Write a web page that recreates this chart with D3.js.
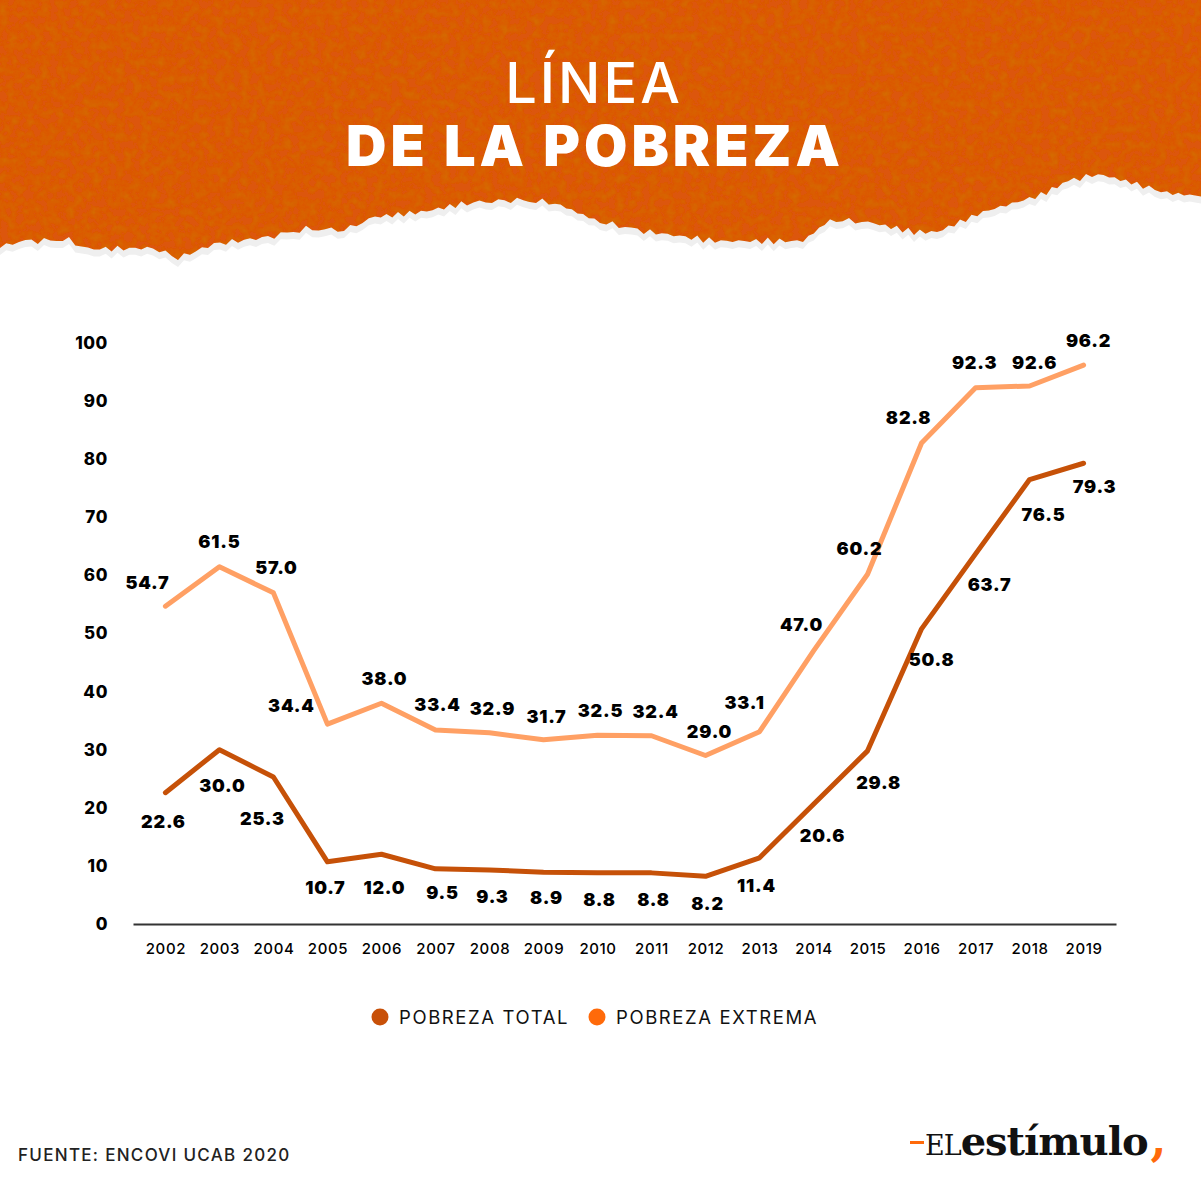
<!DOCTYPE html>
<html>
<head>
<meta charset="utf-8">
<script src="https://cdn.jsdelivr.net/npm/d3@7/dist/d3.min.js"></script>
<style>
  body { margin: 0; background: #fff; }
  svg { display: block; }
</style>
</head>
<body>
<script>
// Data
var years = ["2002","2003","2004","2005","2006","2007","2008","2009","2010","2011","2012","2013","2014","2015","2016","2017","2018","2019"];
var pobrezaTotal = [22.6, 30.0, 25.3, 10.7, 12.0, 9.5, 9.3, 8.9, 8.8, 8.8, 8.2, 11.4, 20.6, 29.8, 50.8, 63.7, 76.5, 79.3];
var pobrezaExtrema = [54.7, 61.5, 57.0, 34.4, 38.0, 33.4, 32.9, 31.7, 32.5, 32.4, 29.0, 33.1, 47.0, 60.2, 82.8, 92.3, 92.6, 96.2];
var yTicks = [0, 10, 20, 30, 40, 50, 60, 70, 80, 90, 100];
var legendItems = ["POBREZA TOTAL", "POBREZA EXTREMA"];

// label nudges (px) relative to each point
var extremaLabelOffset = [[-18,-24],[0,-25],[3,-25],[-36,-19],[3,-25],[2,-25],[3,-24],[3,-23],[3,-25],[4,-24],[4,-24],[-15,-29],[-12,-26],[-8,-26],[-13,-25],[-1,-25],[5,-23],[5,-25]];
var totalLabelOffset = [[-2,29],[3,36],[-11,41],[-2,26],[3,33],[7,24],[3,27],[3,25],[2,27],[2,27],[2,27],[-3,28],[9,31],[11,32],[10,31],[14,31],[14,35],[11,23]];

// torn paper edge of the header (x, y)
var tornEdge = [[1201,196],[1167,193],[1137,184],[1098,174],[1068,181],[1041,195],[983,212],[937,232],[914,232],[868,222],[830,220],[803,241],[715,241],[650,232],[600,222],[555,203],[517,200],[467,203],[421,212],[375,217],[344,230],[306,229],[268,237],[214,244],[178,258],[153,248],[88,249],[69,240],[19,241],[0,248]];

var width = 1201, height = 1201;
var colorTotal = "#c65108", colorExtrema = "#ffa064";
var legendColors = ["#c85008", "#ff6a0a"];
var labelFont = "Inter, 'Open Sans', sans-serif";

var svg = d3.select("body").append("svg")
  .attr("width", width)
  .attr("height", height);

svg.append("rect").attr("width", width).attr("height", height).attr("fill", "#fff");

// ---- header ----
var defs = svg.append("defs");
var paper = defs.append("filter").attr("id", "paper")
  .attr("x", 0).attr("y", 0).attr("width", "100%").attr("height", "100%");
paper.append("feTurbulence")
  .attr("type", "fractalNoise").attr("baseFrequency", 0.12)
  .attr("numOctaves", 5).attr("seed", 11).attr("result", "noise");
paper.append("feColorMatrix").attr("in", "noise").attr("type", "matrix")
  .attr("values", "0 0 0 0 0.6  0 0 0 0 0.22  0 0 0 0 0  0 0 0 -0.8 0.48")
  .attr("result", "spots");
paper.append("feComposite").attr("in", "spots").attr("in2", "SourceGraphic")
  .attr("operator", "in").attr("result", "spotsIn");
paper.append("feMerge").selectAll("feMergeNode")
  .data(["SourceGraphic", "spotsIn"]).enter()
  .append("feMergeNode").attr("in", function(d) { return d; });

// roughen the edge a bit between the read points
function roughEdge(pts) {
  var out = [];
  for (var i = 0; i < pts.length - 1; i++) {
    var a = pts[i], b = pts[i + 1];
    var n = Math.max(2, Math.round(Math.abs(b[0] - a[0]) / 6));
    for (var k = 0; k < n; k++) {
      var t = k / n;
      var x = a[0] + (b[0] - a[0]) * t;
      var y = a[1] + (b[1] - a[1]) * t + 2.2 * Math.sin(x * 1.7) + 1.3 * Math.sin(x * 0.53);
      out.push([x, y]);
    }
  }
  out.push(pts[pts.length - 1]);
  return out;
}
var edge = roughEdge(tornEdge);
var headerPath = "M0,0H" + width + "V" + tornEdge[0][1] + "L" + edge.map(function(p) { return p[0].toFixed(1) + "," + p[1].toFixed(1); }).join("L") + "Z";

svg.append("path").attr("d", headerPath).attr("fill", "#efefef")
  .attr("transform", "translate(0,7)");
svg.append("path").attr("d", headerPath).attr("fill", "#dc5707")
  .attr("filter", "url(#paper)");

svg.append("text")
  .attr("x", 594).attr("y", 103)
  .attr("text-anchor", "middle")
  .style("font-family", "Inter, sans-serif")
  .style("font-weight", 500)
  .style("font-size", "56px")
  .style("letter-spacing", "3px")
  .style("fill", "#fff")
  .text("LÍNEA");

svg.append("text")
  .attr("x", 595).attr("y", 166)
  .attr("text-anchor", "middle")
  .style("font-family", "Inter, sans-serif")
  .style("font-weight", 900)
  .style("font-size", "56px")
  .style("letter-spacing", "4px")
  .style("fill", "#fff")
  .text("DE LA POBREZA");

// ---- chart ----
var x = d3.scalePoint().domain(years).range([133, 1116]).padding(0.6);
var y = d3.scaleLinear().domain([0, 100]).range([924, 343]);

var yAxis = svg.append("g")
  .attr("transform", "translate(133,0)")
  .call(d3.axisLeft(y).tickValues(yTicks).tickSize(0).tickPadding(25));
yAxis.select(".domain").remove();
yAxis.selectAll("text")
  .style("font-family", labelFont)
  .style("font-weight", 800)
  .style("font-size", "17px")
  .style("letter-spacing", "0.6px")
  .style("fill", "#000");

var xAxis = svg.append("g")
  .attr("transform", "translate(0,924)")
  .call(d3.axisBottom(x).tickSize(0).tickPadding(19));
xAxis.select(".domain").attr("stroke", "#333").attr("stroke-width", 2);
xAxis.selectAll("text")
  .style("font-family", labelFont)
  .style("font-weight", 500)
  .style("font-size", "15px")
  .style("letter-spacing", "0.6px")
  .style("fill", "#000");

var line = d3.line()
  .x(function(d, i) { return x(years[i]); })
  .y(function(d) { return y(d); });

svg.append("path").datum(pobrezaExtrema)
  .attr("d", line)
  .attr("fill", "none")
  .attr("stroke", colorExtrema)
  .attr("stroke-width", 5)
  .attr("stroke-linejoin", "round")
  .attr("stroke-linecap", "round");

svg.append("path").datum(pobrezaTotal)
  .attr("d", line)
  .attr("fill", "none")
  .attr("stroke", colorTotal)
  .attr("stroke-width", 5)
  .attr("stroke-linejoin", "round")
  .attr("stroke-linecap", "round");

function drawLabels(values, offsets) {
  svg.append("g").selectAll("text")
    .data(values).enter()
    .append("text")
    .attr("x", function(d, i) { return x(years[i]) + offsets[i][0]; })
    .attr("y", function(d, i) { return y(d) + offsets[i][1]; })
    .attr("text-anchor", "middle")
    .attr("dominant-baseline", "central")
    .style("font-family", labelFont)
    .style("font-weight", 900)
    .style("font-size", "18px")
    .style("letter-spacing", "0.8px")
    .style("fill", "#000")
    .text(function(d) { return d.toFixed(1); });
}
drawLabels(pobrezaExtrema, extremaLabelOffset);
drawLabels(pobrezaTotal, totalLabelOffset);

// ---- legend ----
var legendX = [380, 597];
var legend = svg.append("g").selectAll("g")
  .data(legendItems).enter()
  .append("g")
  .attr("transform", function(d, i) { return "translate(" + legendX[i] + ",1017)"; });
legend.append("circle").attr("r", 8.5)
  .attr("fill", function(d, i) { return legendColors[i]; });
legend.append("text")
  .attr("x", 19).attr("y", 0)
  .attr("dominant-baseline", "central")
  .style("font-family", labelFont)
  .style("font-weight", 400)
  .style("font-size", "18.5px")
  .style("letter-spacing", "1.6px")
  .style("fill", "#111")
  .text(function(d) { return d; });

// ---- footer ----
svg.append("text")
  .attr("x", 18).attr("y", 1161)
  .style("font-family", labelFont)
  .style("font-weight", 500)
  .style("font-size", "17px")
  .style("letter-spacing", "1.3px")
  .style("fill", "#222")
  .text("FUENTE: ENCOVI UCAB 2020");

var logo = svg.append("g");
logo.append("rect").attr("x", 910).attr("y", 1141).attr("width", 14).attr("height", 3).attr("fill", "#ff6a0a");
var logoText = logo.append("text")
  .attr("x", 925).attr("y", 1155)
  .style("font-family", "'DejaVu Serif', serif")
  .style("fill", "#111");
logoText.append("tspan")
  .style("font-size", "27px")
  .style("letter-spacing", "-1px")
  .text("EL");
logoText.append("tspan")
  .style("font-weight", 700)
  .style("font-size", "40px")
  .style("letter-spacing", "-1px")
  .text("estímulo");
logoText.append("tspan")
  .attr("dx", 3)
  .style("font-weight", 700)
  .style("font-size", "46px")
  .style("fill", "#ff6a0a")
  .text(",");
</script>
</body>
</html>
